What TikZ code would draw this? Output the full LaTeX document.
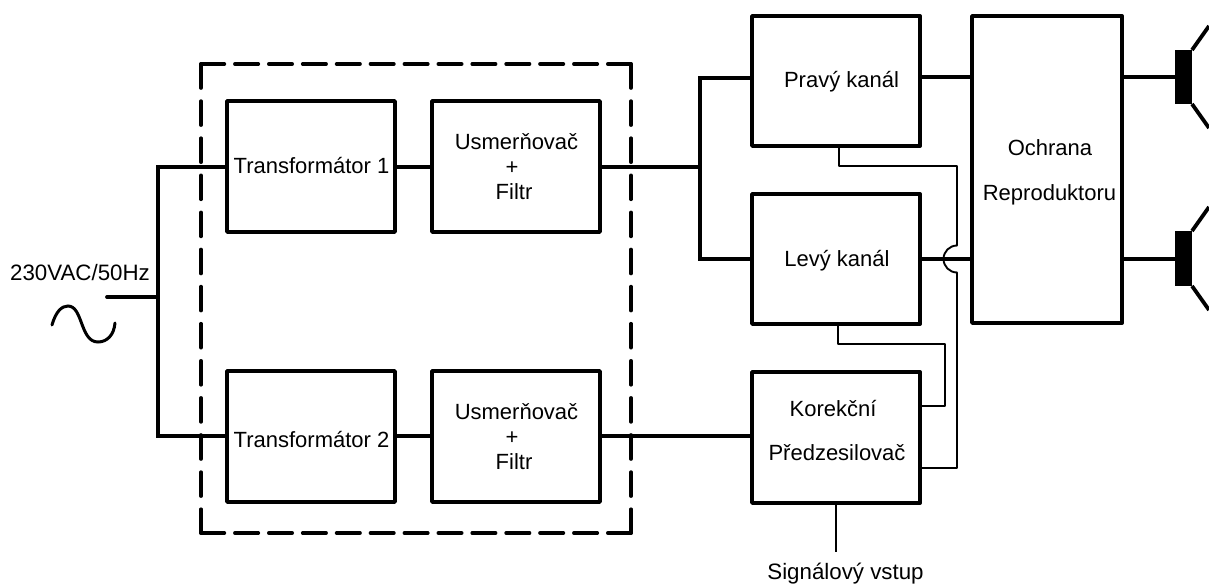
\documentclass[tikz,border=0pt]{standalone}
\usepackage{fontspec}
\setmainfont{Liberation Sans}
\newcommand{\tx}[3]{\hspace*{#1}\smash{\raisebox{#2}{#3}}}
\begin{document}
\begin{tikzpicture}[x=1pt,y=-1pt,
  blk/.style={draw,line width=3.8pt,line join=round,inner sep=0pt,outer sep=0pt,align=center,font=\fontsize{22}{30}\selectfont},
  lbl/.style={inner sep=0pt,outer sep=0pt,font=\fontsize{22.3}{26}\selectfont},
  thick wire/.style={line width=3.8pt},
  thin wire/.style={line width=1.9pt,line join=round},
  frameh/.style={line width=3.6pt,line cap=round,dash pattern=on 23.4pt off 10.5pt},
  framev/.style={line width=3.6pt,line cap=round,dash pattern=on 24pt off 13.1pt}]
\useasboundingbox (0,0) rectangle (1209,586);
\newcommand{\blkbox}[6]{\node[blk,minimum width=#4 pt-#2 pt,minimum height=#5 pt-#3 pt] (#1) at ({(#2+#4)/2},{(#3+#5)/2}) {#6};}
\blkbox{t1}{227}{101}{395}{232}{\tx{1pt}{-6.8pt}{Transformátor 1}}
\blkbox{u1}{432}{101}{600}{232}{\tx{1pt}{-8.1pt}{Usmerňovač}\\[-4.7pt]\tx{-8pt}{-8.1pt}{+}\\[-4.7pt]\tx{-4pt}{-8.1pt}{Filtr}}
\blkbox{t2}{227}{371}{395}{502}{\tx{1pt}{-10.5pt}{Transformátor 2}}
\blkbox{u2}{432}{371}{600}{502}{\tx{1pt}{-8.1pt}{Usmerňovač}\\[-4.7pt]\tx{-8pt}{-8.1pt}{+}\\[-4.7pt]\tx{-4pt}{-8.1pt}{Filtr}}
\blkbox{pk}{752}{16}{920}{146}{\tx{11pt}{-6.3pt}{Pravý kanál}}
\blkbox{lk}{752}{194}{920}{324}{\tx{2pt}{-7pt}{Levý kanál}}
\blkbox{kp}{752}{372}{920}{503}{\tx{-6pt}{-0.85pt}{Korekční}\\[14.7pt]\tx{2pt}{-0.85pt}{Předzesilovač}}
\blkbox{och}{972}{16}{1122}{323}{\tx{6pt}{-8.7pt}{Ochrana}\\[15pt]\tx{5pt}{-8.7pt}{Reproduktoru}}
% dashed frame
\coordinate (fa) at (201,64);
\coordinate (fb) at (631,64);
\coordinate (fc) at (631,533);
\coordinate (fd) at (201,533);
\draw[frameh] (fa) -- (fb);
\draw[frameh] (fd) -- (fc);
\draw[framev] (fa) -- (fd);
\draw[framev] (fb) -- (fc);
% speakers
\fill (1175,50) rectangle (1192,104);
\fill (1175,231) rectangle (1192,286);
\draw[thick wire] (1192,50) -- (1209,26) (1192,104) -- (1209,128);
\draw[thick wire] (1192,231) -- (1209,207) (1192,286) -- (1209,310);
\coordinate (sp1) at (1175,77);
\coordinate (sp2) at (1175,259);
% mains
\coordinate (in) at (107,297);
\coordinate (busT) at (158,167);
\coordinate (busB) at (158,436);
\coordinate (busM) at (158,297);
\draw[thick wire,line cap=round] (in) -- (busM);
\draw[thick wire,line join=miter] (t1.west |- busT) -- (busT) -- (busB) -- (t2.west |- busB);
\draw[line width=3pt,line cap=round] (52,325) .. controls (56,311) and (62,306) .. (68,306) .. controls (83,306) and (80,342) .. (98,342) .. controls (107,342) and (114,335) .. (115,323);
\draw[thick wire] (t1.east |- busT) -- (u1.west |- busT);
\draw[thick wire] (t2.east |- busB) -- (u2.west |- busB);
% rectifier to channels
\coordinate (j) at (700,167);
\coordinate (jT) at (700,78);
\coordinate (jB) at (700,259);
\draw[thick wire] (u1.east |- j) -- (j);
\draw[thick wire,line join=miter] (pk.west |- jT) -- (jT) -- (jB) -- (lk.west |- jB);
\draw[thick wire] (u2.east |- busB) -- (kp.west |- busB);
\draw[thick wire] (pk.east |- sp1) -- (och.west |- sp1);
\draw[thick wire] (lk.east |- sp2) -- (och.west |- sp2);
\draw[thick wire] (och.east |- sp1) -- (sp1);
\draw[thick wire] (och.east |- sp2) -- (sp2);
% thin signal wires
\coordinate (a1) at (839,146);
\coordinate (a2) at (957,166);
\coordinate (a3) at (957,245.5);
\coordinate (a5) at (957,468);
\draw[thin wire] (a1) -- (a1 |- a2) -- (a2) -- (a3) arc[start angle=90,end angle=270,radius=13.5pt] -- (a5) -- (kp.east |- a5);
\coordinate (b1) at (838,324);
\coordinate (b2) at (945,344);
\coordinate (b3) at (945,406);
\draw[thin wire] (b1) -- (b1 |- b2) -- (b2) -- (b3) -- (kp.east |- b3);
\coordinate (sig) at (836,552);
\draw[thin wire] (kp.south -| sig) -- (sig);
\node[lbl] (vst) at (845.5,574) {Signálový vstup};
\node[lbl] (ac) at (80,272.5) {230VAC/50Hz};
\end{tikzpicture}
\end{document}
